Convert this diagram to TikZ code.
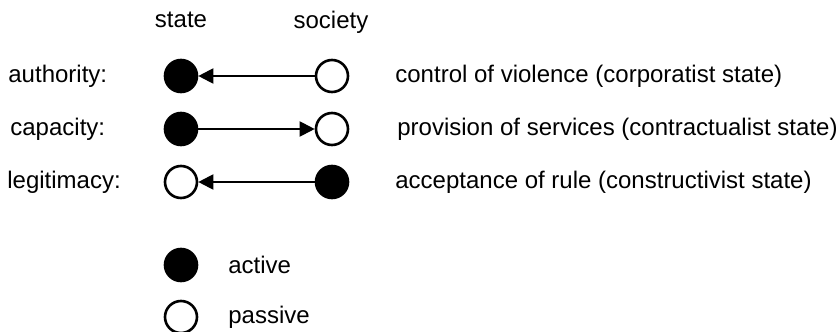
\documentclass[tikz,border=0pt]{standalone}
\usepackage{fontspec}
\setmainfont{Liberation Sans}
\usetikzlibrary{arrows.meta}

\begin{document}
\begin{tikzpicture}[x=0.5pt,y=-0.5pt,
  active/.style={circle, draw, line width=1.3pt, fill=black, minimum size=16pt, inner sep=0pt},
  passive/.style={circle, draw, line width=1.3pt, fill=white, minimum size=16pt, inner sep=0pt},
  flow/.style={line width=1pt, -{Triangle[length=7.5pt,width=7.5pt]}},
  lbl/.style={anchor=west, inner sep=0pt, font=\fontsize{12}{14}\selectfont}]
\useasboundingbox (0,0) rectangle (837,332);

% Column headings
\node[lbl, anchor=base] (hstate) at (181,27) {state};
\node[lbl, anchor=base] (hsociety) at (331,28) {society};

% Authority
\node[lbl] (lauth) at (8,76) {authority:};
\node[active] (sauth) at (181,76) {};
\node[passive] (oauth) at (332,76) {};
\draw[flow] (oauth) -- (sauth);
\node[lbl] (dauth) at (395,76) {control of violence (corporatist state)};

% Capacity
\node[lbl] (lcap) at (10,129) {capacity:};
\node[active] (scap) at (181,129) {};
\node[passive] (ocap) at (332,129) {};
\draw[flow] (scap) -- (ocap);
\node[lbl] (dcap) at (397,129) {provision of services (contractualist state)};

% Legitimacy
\node[lbl] (lleg) at (7,182) {legitimacy:};
\node[passive] (sleg) at (181,182) {};
\node[active] (oleg) at (332,182) {};
\draw[flow] (oleg) -- (sleg);
\node[lbl] (dleg) at (395,182) {acceptance of rule (constructivist state)};

% Legend
\node[active] (kact) at (181,265) {};
\node[lbl] (tact) at (228,265) {active};
\node[passive] (kpas) at (181,317) {};
\node[lbl] (tpas) at (228,317) {passive};
\end{tikzpicture}
\end{document}
